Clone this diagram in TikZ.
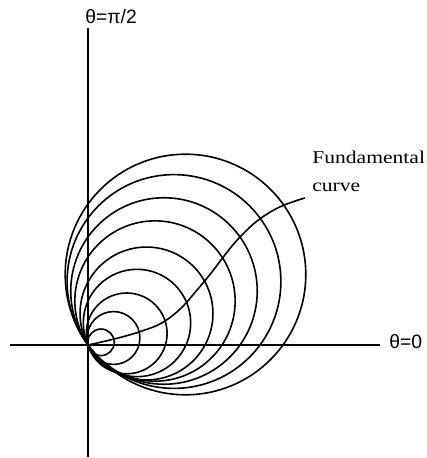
\documentclass[tikz,border=0pt]{standalone}
\usepackage{fontspec}
\setmainfont{Liberation Serif}
\newfontfamily\lblfont{Liberation Serif}[FakeStretch=1.2]
\newfontfamily\axfont{Liberation Sans}
\begin{document}
\begin{tikzpicture}[x=0.75pt,y=-0.75pt,
  axisline/.style={line width=1.6pt},
  circ/.style={line width=1.2pt},
  fcurve/.style={line width=1.2pt},
  axlabel/.style={font=\axfont\fontsize{14.5}{17}\selectfont, inner sep=0pt},
  curvelabel/.style={font=\lblfont\fontsize{13.5}{21}\selectfont, align=left, inner sep=0pt}]
\useasboundingbox (0,0) rectangle (426,458);
% axes
\coordinate (O) at (88,345);
\coordinate (xl) at (10,345);
\coordinate (xr) at (380,345);
\coordinate (yt) at (88,28);
\coordinate (yb) at (88,457);
\draw[axisline] (xl) -- (xr);
\draw[axisline] (yb) -- (yt);
\node[axlabel, anchor=west] (t0) at (389,342) {θ=0};
\node[axlabel, anchor=west] (t90) at (85,17) {θ=π/2};
% circles through the origin
\foreach \cx/\cy/\r in {101/342.3/13.28, 113.5/338/26.44, 126.7/333.4/40.4,
  137/323/53.7, 146.5/313.5/66.45, 155/301/80.15, 164/291/93.25,
  174/281.5/106.9, 185.5/274.5/120.3}
  \draw[circ] (\cx,\cy) circle [radius=\r];
% fundamental curve
\node[curvelabel, anchor=base west] (lab) at (312,191) {Fundamental\\curve};
\coordinate (cend) at (305,198);
\draw[fcurve] plot[smooth, tension=0.7] coordinates {(O) (139,332) (172,316)
  (203,283) (240,237) (272,211) (cend)};
\end{tikzpicture}
\end{document}
